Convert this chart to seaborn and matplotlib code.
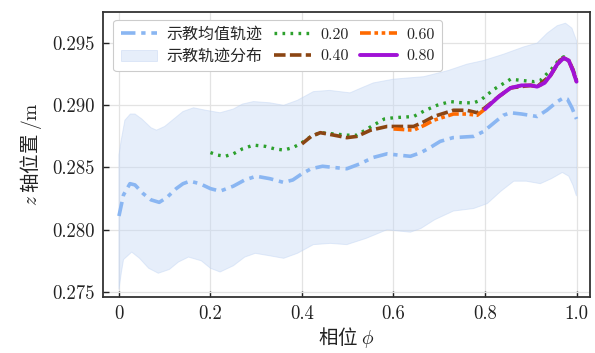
import numpy as np
import pandas as pd
import matplotlib
matplotlib.use("Agg")
import matplotlib.pyplot as plt
import seaborn as sns

# Demonstrated mean trajectory (z position over phase)
mean_phi = [0.0, 0.01, 0.024, 0.035, 0.053, 0.07, 0.088, 0.105, 0.125, 0.14, 0.155, 0.177,
            0.2, 0.221, 0.25, 0.275, 0.30, 0.33, 0.36, 0.38, 0.40, 0.42, 0.445, 0.47, 0.498,
            0.527, 0.555, 0.586, 0.61, 0.637, 0.66, 0.68, 0.702, 0.73, 0.775, 0.797, 0.82,
            0.84, 0.856, 0.88, 0.914, 0.935, 0.958, 0.972, 0.98, 0.99, 1.0]
mean_z = [0.2811, 0.2828, 0.2837, 0.2836, 0.2829, 0.2824, 0.2822, 0.2826, 0.2833, 0.2837, 0.2839, 0.2837,
          0.2833, 0.2831, 0.2835, 0.2840, 0.2843, 0.2841, 0.2838, 0.2840, 0.2845, 0.2849, 0.2851, 0.2850, 0.2849,
          0.2853, 0.2858, 0.2861, 0.2860, 0.2859, 0.2862, 0.2866, 0.2871, 0.2874, 0.2875, 0.2879, 0.2886,
          0.2892, 0.2894, 0.2893, 0.2891, 0.2896, 0.2903, 0.2906, 0.2905, 0.2898, 0.2889]

# Spread of the demonstrations (upper / lower envelope)
upper_phi = [0.0, 0.005, 0.013, 0.025, 0.035, 0.05, 0.07, 0.082, 0.1, 0.12, 0.14, 0.163, 0.19,
             0.221, 0.25, 0.27, 0.294, 0.33, 0.36, 0.39, 0.425, 0.46, 0.505, 0.53, 0.556, 0.6,
             0.666, 0.72, 0.76, 0.797, 0.84, 0.885, 0.914, 0.936, 0.958, 0.976, 0.99, 1.0]
upper_z = [0.2860, 0.2872, 0.2888, 0.2893, 0.2893, 0.2889, 0.2882, 0.2880, 0.2883, 0.2889, 0.2895, 0.2898, 0.2896,
           0.2894, 0.2897, 0.2901, 0.2903, 0.2902, 0.2900, 0.2904, 0.2911, 0.2912, 0.2910, 0.2914, 0.2918, 0.2921,
           0.2923, 0.2928, 0.2933, 0.2936, 0.2941, 0.2947, 0.2950, 0.2958, 0.2964, 0.2966, 0.2962, 0.2952]
lower_phi = [0.0, 0.005, 0.01, 0.028, 0.045, 0.065, 0.086, 0.11, 0.13, 0.152, 0.18, 0.2, 0.221,
             0.25, 0.275, 0.298, 0.33, 0.36, 0.39, 0.425, 0.462, 0.498, 0.54, 0.586, 0.61, 0.637,
             0.66, 0.69, 0.731, 0.775, 0.805, 0.835, 0.863, 0.89, 0.921, 0.945, 0.969, 0.983, 0.992, 1.0]
lower_z = [0.2752, 0.2765, 0.2776, 0.2782, 0.2777, 0.2769, 0.2765, 0.2768, 0.2774, 0.2778, 0.2775, 0.2769, 0.2766,
           0.2771, 0.2778, 0.2781, 0.2779, 0.2777, 0.2781, 0.2788, 0.2789, 0.2788, 0.2793, 0.2800, 0.2799, 0.2798,
           0.2801, 0.2808, 0.2815, 0.2817, 0.2821, 0.2831, 0.2839, 0.2839, 0.2837, 0.2841, 0.2846, 0.2843, 0.2836, 0.2827]

# Generalized trajectories starting from different phases
phi_020 = [0.2, 0.215, 0.232, 0.25, 0.27, 0.294, 0.32, 0.34, 0.36, 0.38, 0.396, 0.42, 0.44, 0.47, 0.498,
           0.52, 0.556, 0.58, 0.6, 0.644, 0.67, 0.695, 0.724, 0.75, 0.775, 0.79, 0.82, 0.856, 0.88, 0.907,
           0.921, 0.945, 0.963, 0.972, 0.983, 0.992, 1.0]
z_020 = [0.2862, 0.2860, 0.2859, 0.2861, 0.2865, 0.2868, 0.2867, 0.2865, 0.2864, 0.2866, 0.2869, 0.2875, 0.2878, 0.2877, 0.2876,
         0.2876, 0.2884, 0.2889, 0.2890, 0.2891, 0.2896, 0.2900, 0.2903, 0.2902, 0.2902, 0.2904, 0.2913, 0.2921, 0.2920, 0.2919,
         0.2920, 0.2929, 0.2937, 0.2939, 0.2936, 0.2928, 0.2919]

phi_040 = [0.4, 0.42, 0.44, 0.47, 0.498, 0.52, 0.55, 0.586, 0.644, 0.668, 0.688, 0.731, 0.76, 0.783,
           0.8, 0.83, 0.856, 0.9, 0.914, 0.943, 0.963, 0.972, 0.983, 0.992, 1.0]
z_040 = [0.2869, 0.2875, 0.2878, 0.2876, 0.2874, 0.2875, 0.2880, 0.2883, 0.2883, 0.2887, 0.2891, 0.2896, 0.2896, 0.2894,
         0.2898, 0.2907, 0.2914, 0.2916, 0.2915, 0.2924, 0.2936, 0.2938, 0.2936, 0.2929, 0.2920]

phi_060 = [0.6, 0.644, 0.668, 0.688, 0.731, 0.76, 0.783, 0.8, 0.83, 0.856, 0.88, 0.9, 0.914, 0.93,
           0.943, 0.958, 0.972, 0.983, 0.992, 1.0]
z_060 = [0.2881, 0.2880, 0.2884, 0.2888, 0.2893, 0.2893, 0.2892, 0.2897, 0.2907, 0.2914, 0.2916, 0.2916, 0.2915, 0.2918,
         0.2924, 0.2933, 0.2938, 0.2936, 0.2928, 0.2919]

phi_080 = [0.8, 0.83, 0.856, 0.88, 0.9, 0.914, 0.93, 0.943, 0.958, 0.972, 0.983, 0.992, 1.0]
z_080 = [0.2897, 0.2907, 0.2914, 0.2916, 0.2916, 0.2915, 0.2918, 0.2924, 0.2933, 0.2938, 0.2936, 0.2928, 0.2919]

x_ticks = [0.0, 0.2, 0.4, 0.6, 0.8, 1.0]
x_tick_labels = ["0", "0.2", "0.4", "0.6", "0.8", "1.0"]
y_ticks = [0.275, 0.280, 0.285, 0.290, 0.295]
y_tick_labels = ["0.275", "0.280", "0.285", "0.290", "0.295"]

sns.set_theme(style="whitegrid")
plt.rcParams["font.family"] = ["cmr10", "Noto Sans CJK SC"]
plt.rcParams["mathtext.fontset"] = "cm"
plt.rcParams["axes.formatter.use_mathtext"] = True
plt.rcParams["axes.unicode_minus"] = False

fig = plt.figure(figsize=(5.95, 3.53), dpi=100)
ax = fig.add_axes([0.173, 0.159, 0.819, 0.807])

# envelope as one closed polygon: upper edge forward, lower edge back
band_x = np.r_[upper_phi, lower_phi[::-1]]
band_y = np.r_[upper_z, lower_z[::-1]]
band = ax.fill(band_x, band_y, facecolor="#c5d8f5", alpha=0.42, edgecolor="#bcd1f2",
               linewidth=0.7, zorder=1, label="示教轨迹分布")[0]

sns.lineplot(x=mean_phi, y=mean_z, ax=ax, color="#8ab6f2", linewidth=2.6,
             linestyle=(0, (4, 1.6, 1.2, 1.6)), label="示教均值轨迹", sort=False,
             estimator=None, zorder=3)

series = [
    (phi_020, z_020, "0.20", "#2ca02c", (0, (0.8, 1.6)), 2.4),
    (phi_040, z_040, "0.40", "#8b4513", (0, (3.2, 1.2)), 2.6),
    (phi_060, z_060, "0.60", "#ff6a00", (0, (3, 1, 1, 1, 1, 1)), 2.6),
    (phi_080, z_080, "0.80", "#a012d6", "-", 2.8),
]
for i, (px, pz, lab, col, ls, lw) in enumerate(series):
    sns.lineplot(x=px, y=pz, ax=ax, color=col, linestyle=ls, linewidth=lw,
                 label=lab, sort=False, estimator=None, zorder=4 + i)

ax.set_xlim(-0.035, 1.03)
ax.set_ylim(0.2746, 0.2975)
ax.set_xticks(x_ticks)
ax.set_xticklabels(x_tick_labels)
ax.set_yticks(y_ticks)
ax.set_yticklabels(y_tick_labels)
ax.tick_params(axis="both", direction="in", length=4, width=1.0, color="#222222",
               labelsize=13.5, labelcolor="#222222", pad=6)
ax.tick_params(axis="both", which="both", bottom=True, left=True)

cjk = ["Noto Sans CJK SC"]
ax.set_xlabel("相位 $\\phi$", fontsize=14, color="#222222", labelpad=1, family=cjk)
ax.set_ylabel("$z$ 轴位置 $/\\mathrm{m}$", fontsize=14, color="#222222", labelpad=6, family=cjk)

ax.set_facecolor("white")
ax.grid(True, color="#e3e3e3", linewidth=0.9)
ax.set_axisbelow(True)
for sp in ax.spines.values():
    sp.set_visible(True)
    sp.set_color("#333333")
    sp.set_linewidth(1.3)

handles, labels = ax.get_legend_handles_labels()
order = ["示教均值轨迹", "示教轨迹分布", "0.20", "0.40", "0.60", "0.80"]
hmap = dict(zip(labels, handles))
hmap["示教轨迹分布"] = band
leg = ax.legend([hmap[k] for k in order], order, loc="upper left", ncol=3,
                fontsize=11.5, frameon=True, fancybox=True, framealpha=1.0,
                edgecolor="#cccccc", handlelength=2.3, handletextpad=0.6,
                columnspacing=0.7, borderpad=0.45, labelspacing=0.45,
                bbox_to_anchor=(0.005, 1.0))
leg.get_frame().set_linewidth(0.8)

fig.savefig("out.png", dpi=100, facecolor="white")
